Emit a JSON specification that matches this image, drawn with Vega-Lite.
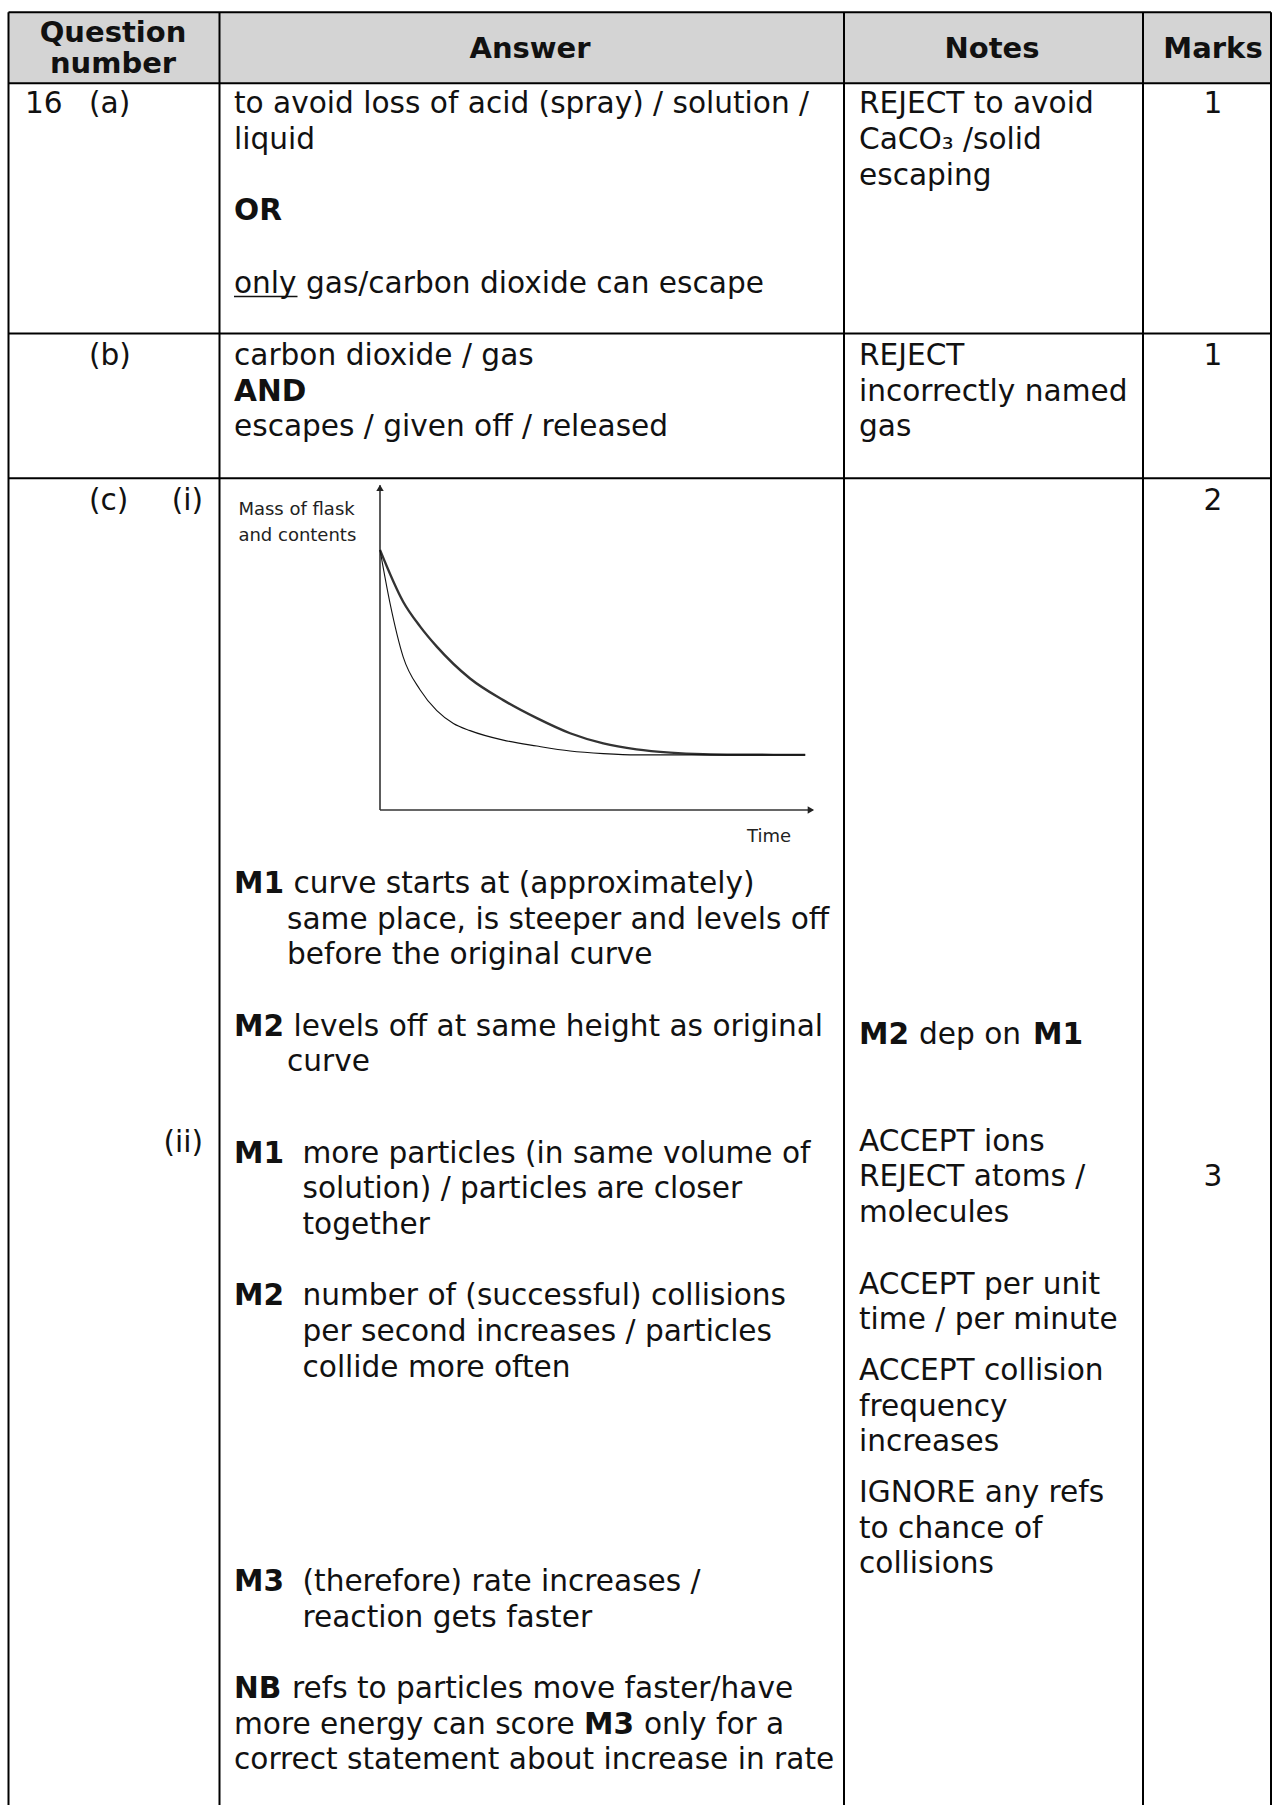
{
  "$schema": "https://vega.github.io/schema/vega-lite/v6.json",
  "width": 1274,
  "height": 1805,
  "padding": 0,
  "autosize": "none",
  "background": "white",
  "config": {"view": {"stroke": null}},
  "datasets": {
    "header": [{"col": 0, "col2": 22, "line": -2.83, "line2": -0.84}],
    "hlines": [
      {"col": 0, "col2": 22, "line": -2.83},
      {"col": 0, "col2": 22, "line": -0.84},
      {"col": 0, "col2": 22, "line": 6.17},
      {"col": 0, "col2": 22, "line": 10.22}
    ],
    "vlines": [
      {"col": 0, "line": -2.83, "line2": 48},
      {"col": 5, "line": -2.83, "line2": 48},
      {"col": 15, "line": -2.83, "line2": 48},
      {"col": 20, "line": -2.83, "line2": 48},
      {"col": 22, "line": -2.83, "line2": 48}
    ],
    "underlines": [{"col": 6, "col2": 10, "line": 5.13}],
    "texts": [
      {"kind": "header", "col": 3, "line": -2.01, "text": "Question"},
      {"kind": "header", "col": 3, "line": -1.12, "text": "number"},
      {"kind": "header", "col": 12, "line": -1.56, "text": "Answer"},
      {"kind": "header", "col": 18, "line": -1.56, "text": "Notes"},
      {"kind": "header", "col": 21, "line": -1.56, "text": "Marks"},

      {"kind": "body", "col": 1, "line": 0, "text": "16"},
      {"kind": "body", "col": 2, "line": 0, "text": "(a)"},
      {"kind": "body", "col": 6, "line": 0, "text": "to avoid loss of acid (spray) / solution /"},
      {"kind": "body", "col": 6, "line": 1, "text": "liquid"},
      {"kind": "label", "col": 6, "line": 3, "text": "OR"},
      {"kind": "body", "col": 6, "line": 5.03, "text": "only gas/carbon dioxide can escape"},
      {"kind": "body", "col": 16, "line": 0, "text": "REJECT to avoid"},
      {"kind": "body", "col": 16, "line": 1, "text": "CaCO₃ /solid"},
      {"kind": "body", "col": 16, "line": 2, "text": "escaping"},
      {"kind": "mark", "col": 21, "line": 0, "text": "1"},

      {"kind": "body", "col": 2, "line": 7.05, "text": "(b)"},
      {"kind": "body", "col": 6, "line": 7.05, "text": "carbon dioxide / gas"},
      {"kind": "label", "col": 6, "line": 8.05, "text": "AND"},
      {"kind": "body", "col": 6, "line": 9.05, "text": "escapes / given off / released"},
      {"kind": "body", "col": 16, "line": 7.05, "text": "REJECT"},
      {"kind": "body", "col": 16, "line": 8.05, "text": "incorrectly named"},
      {"kind": "body", "col": 16, "line": 9.05, "text": "gas"},
      {"kind": "mark", "col": 21, "line": 7.05, "text": "1"},

      {"kind": "body", "col": 2, "line": 11.1, "text": "(c)"},
      {"kind": "part", "col": 4, "line": 11.1, "text": "(i)"},
      {"kind": "mark", "col": 21, "line": 11.1, "text": "2"},
      {"kind": "label", "col": 6, "line": 21.84, "text": "M1"},
      {"kind": "body", "col": 9, "line": 21.84, "text": "curve starts at (approximately)"},
      {"kind": "body", "col": 7, "line": 22.84, "text": "same place, is steeper and levels off"},
      {"kind": "body", "col": 7, "line": 23.84, "text": "before the original curve"},
      {"kind": "label", "col": 6, "line": 25.84, "text": "M2"},
      {"kind": "body", "col": 9, "line": 25.84, "text": "levels off at same height as original"},
      {"kind": "body", "col": 7, "line": 26.84, "text": "curve"},
      {"kind": "label", "col": 16, "line": 26.06, "text": "M2"},
      {"kind": "body", "col": 17, "line": 26.06, "text": "dep on"},
      {"kind": "label", "col": 19, "line": 26.06, "text": "M1"},

      {"kind": "part", "col": 4, "line": 29.1, "text": "(ii)"},
      {"kind": "label", "col": 6, "line": 29.39, "text": "M1"},
      {"kind": "body", "col": 11, "line": 29.39, "text": "more particles (in same volume of"},
      {"kind": "body", "col": 11, "line": 30.39, "text": "solution) / particles are closer"},
      {"kind": "body", "col": 11, "line": 31.39, "text": "together"},
      {"kind": "label", "col": 6, "line": 33.39, "text": "M2"},
      {"kind": "body", "col": 11, "line": 33.39, "text": "number of (successful) collisions"},
      {"kind": "body", "col": 11, "line": 34.39, "text": "per second increases / particles"},
      {"kind": "body", "col": 11, "line": 35.39, "text": "collide more often"},
      {"kind": "label", "col": 6, "line": 41.39, "text": "M3"},
      {"kind": "body", "col": 11, "line": 41.39, "text": "(therefore) rate increases /"},
      {"kind": "body", "col": 11, "line": 42.39, "text": "reaction gets faster"},
      {"kind": "label", "col": 6, "line": 44.39, "text": "NB"},
      {"kind": "body", "col": 8, "line": 44.39, "text": "refs to particles move faster/have"},
      {"kind": "body", "col": 6, "line": 45.39, "text": "more energy can score"},
      {"kind": "label", "col": 13, "line": 45.39, "text": "M3"},
      {"kind": "body", "col": 14, "line": 45.39, "text": "only for a"},
      {"kind": "body", "col": 6, "line": 46.39, "text": "correct statement about increase in rate"},
      {"kind": "body", "col": 16, "line": 29.06, "text": "ACCEPT ions"},
      {"kind": "body", "col": 16, "line": 30.06, "text": "REJECT atoms /"},
      {"kind": "body", "col": 16, "line": 31.06, "text": "molecules"},
      {"kind": "body", "col": 16, "line": 33.06, "text": "ACCEPT per unit"},
      {"kind": "body", "col": 16, "line": 34.06, "text": "time / per minute"},
      {"kind": "body", "col": 16, "line": 35.48, "text": "ACCEPT collision"},
      {"kind": "body", "col": 16, "line": 36.48, "text": "frequency"},
      {"kind": "body", "col": 16, "line": 37.48, "text": "increases"},
      {"kind": "body", "col": 16, "line": 38.9, "text": "IGNORE any refs"},
      {"kind": "body", "col": 16, "line": 39.9, "text": "to chance of"},
      {"kind": "body", "col": 16, "line": 40.9, "text": "collisions"},
      {"kind": "mark", "col": 21, "line": 30.06, "text": "3"}
    ],
    "curves": [
      {"curve": "original", "t": 0, "m": 79.3},
      {"curve": "original", "t": 5.3, "m": 63.5},
      {"curve": "original", "t": 9.2, "m": 55.9},
      {"curve": "original", "t": 13, "m": 49.8},
      {"curve": "original", "t": 20.6, "m": 40.1},
      {"curve": "original", "t": 28.2, "m": 33.5},
      {"curve": "original", "t": 35.9, "m": 28.0},
      {"curve": "original", "t": 43.5, "m": 23.4},
      {"curve": "original", "t": 51.1, "m": 20.3},
      {"curve": "original", "t": 58.7, "m": 18.5},
      {"curve": "original", "t": 66.4, "m": 17.5},
      {"curve": "original", "t": 74, "m": 17.0},
      {"curve": "original", "t": 81.6, "m": 16.85},
      {"curve": "original", "t": 97.3, "m": 16.8},
      {"curve": "faster", "t": 0, "m": 79.3},
      {"curve": "faster", "t": 2.3, "m": 63.0},
      {"curve": "faster", "t": 5.3, "m": 46.7},
      {"curve": "faster", "t": 9.2, "m": 36.6},
      {"curve": "faster", "t": 13, "m": 30.3},
      {"curve": "faster", "t": 16.8, "m": 26.4},
      {"curve": "faster", "t": 20.6, "m": 24.2},
      {"curve": "faster", "t": 28.2, "m": 21.3},
      {"curve": "faster", "t": 35.9, "m": 19.5},
      {"curve": "faster", "t": 43.5, "m": 18.0},
      {"curve": "faster", "t": 51.1, "m": 17.2},
      {"curve": "faster", "t": 58.7, "m": 16.8},
      {"curve": "faster", "t": 97.3, "m": 16.8}
    ],
    "axes": [
      {"axis": "mass", "t": 0, "m": 0, "t2": 0, "m2": 99},
      {"axis": "time", "t": 0, "m": 0, "t2": 99, "m2": 0}
    ],
    "arrows": [
      {"axis": "mass", "t": 0, "m": 98.2},
      {"axis": "time", "t": 98.6, "m": 0}
    ],
    "chartLabels": [
      {"t": -32.4, "m": 89.9, "text": "Mass of flask"},
      {"t": -32.4, "m": 82.0, "text": "and contents"},
      {"t": 84.0, "m": -9.8, "text": "Time"}
    ]
  },
  "layer": [
    {
      "layer": [
        {
          "data": {"name": "header"},
          "mark": {"type": "rect", "color": "#d4d4d4"},
          "encoding": {
            "x": {"field": "col", "type": "quantitative", "axis": null, "scale": {"domain": [0,1,2,3,4,5,6,7,8,9,10,11,12,13,14,15,16,17,18,19,20,21,22], "range": [8.5,25,89,113,203,219.5,234,287,292,293.5,297.5,302.5,530,584,644,844,859,919,992,1033,1143,1213,1271], "nice": false, "zero": false}},
            "x2": {"field": "col2"},
            "y": {"field": "line", "type": "quantitative", "axis": null, "scale": {"domain": [0, 10], "range": [113.3, 470.3], "nice": false, "zero": false}},
            "y2": {"field": "line2"}
          }
        },
        {
          "data": {"name": "hlines"},
          "mark": {"type": "rule", "color": "#000", "strokeWidth": 2},
          "encoding": {
            "x": {"field": "col", "type": "quantitative", "axis": null, "scale": {"domain": [0,1,2,3,4,5,6,7,8,9,10,11,12,13,14,15,16,17,18,19,20,21,22], "range": [8.5,25,89,113,203,219.5,234,287,292,293.5,297.5,302.5,530,584,644,844,859,919,992,1033,1143,1213,1271], "nice": false, "zero": false}},
            "x2": {"field": "col2"},
            "y": {"field": "line", "type": "quantitative", "axis": null, "scale": {"domain": [0, 10], "range": [113.3, 470.3], "nice": false, "zero": false}}
          }
        },
        {
          "data": {"name": "vlines"},
          "mark": {"type": "rule", "color": "#000", "strokeWidth": 2},
          "encoding": {
            "x": {"field": "col", "type": "quantitative", "axis": null, "scale": {"domain": [0,1,2,3,4,5,6,7,8,9,10,11,12,13,14,15,16,17,18,19,20,21,22], "range": [8.5,25,89,113,203,219.5,234,287,292,293.5,297.5,302.5,530,584,644,844,859,919,992,1033,1143,1213,1271], "nice": false, "zero": false}},
            "y": {"field": "line", "type": "quantitative", "axis": null, "scale": {"domain": [0, 10], "range": [113.3, 470.3], "nice": false, "zero": false}},
            "y2": {"field": "line2"}
          }
        },
        {
          "data": {"name": "underlines"},
          "mark": {"type": "rule", "color": "#111", "strokeWidth": 1.5},
          "encoding": {
            "x": {"field": "col", "type": "quantitative", "axis": null, "scale": {"domain": [0,1,2,3,4,5,6,7,8,9,10,11,12,13,14,15,16,17,18,19,20,21,22], "range": [8.5,25,89,113,203,219.5,234,287,292,293.5,297.5,302.5,530,584,644,844,859,919,992,1033,1143,1213,1271], "nice": false, "zero": false}},
            "x2": {"field": "col2"},
            "y": {"field": "line", "type": "quantitative", "axis": null, "scale": {"domain": [0, 10], "range": [113.3, 470.3], "nice": false, "zero": false}}
          }
        },
        {
          "data": {"name": "texts"},
          "transform": [{"filter": "datum.kind === 'body'"}],
          "mark": {"type": "text", "align": "left", "baseline": "alphabetic", "font": "DejaVu Sans", "fontSize": 29.6, "color": "#111"},
          "encoding": {
            "x": {"field": "col", "type": "quantitative", "axis": null, "scale": {"domain": [0,1,2,3,4,5,6,7,8,9,10,11,12,13,14,15,16,17,18,19,20,21,22], "range": [8.5,25,89,113,203,219.5,234,287,292,293.5,297.5,302.5,530,584,644,844,859,919,992,1033,1143,1213,1271], "nice": false, "zero": false}},
            "y": {"field": "line", "type": "quantitative", "axis": null, "scale": {"domain": [0, 10], "range": [113.3, 470.3], "nice": false, "zero": false}},
            "text": {"field": "text"}
          }
        },
        {
          "data": {"name": "texts"},
          "transform": [{"filter": "datum.kind === 'label'"}],
          "mark": {"type": "text", "align": "left", "baseline": "alphabetic", "font": "DejaVu Sans", "fontSize": 29.6, "fontWeight": "bold", "color": "#111"},
          "encoding": {
            "x": {"field": "col", "type": "quantitative", "axis": null, "scale": {"domain": [0,1,2,3,4,5,6,7,8,9,10,11,12,13,14,15,16,17,18,19,20,21,22], "range": [8.5,25,89,113,203,219.5,234,287,292,293.5,297.5,302.5,530,584,644,844,859,919,992,1033,1143,1213,1271], "nice": false, "zero": false}},
            "y": {"field": "line", "type": "quantitative", "axis": null, "scale": {"domain": [0, 10], "range": [113.3, 470.3], "nice": false, "zero": false}},
            "text": {"field": "text"}
          }
        },
        {
          "data": {"name": "texts"},
          "transform": [{"filter": "datum.kind === 'header'"}],
          "mark": {"type": "text", "align": "center", "baseline": "alphabetic", "font": "DejaVu Sans", "fontSize": 29, "fontWeight": "bold", "color": "#111"},
          "encoding": {
            "x": {"field": "col", "type": "quantitative", "axis": null, "scale": {"domain": [0,1,2,3,4,5,6,7,8,9,10,11,12,13,14,15,16,17,18,19,20,21,22], "range": [8.5,25,89,113,203,219.5,234,287,292,293.5,297.5,302.5,530,584,644,844,859,919,992,1033,1143,1213,1271], "nice": false, "zero": false}},
            "y": {"field": "line", "type": "quantitative", "axis": null, "scale": {"domain": [0, 10], "range": [113.3, 470.3], "nice": false, "zero": false}},
            "text": {"field": "text"}
          }
        },
        {
          "data": {"name": "texts"},
          "transform": [{"filter": "datum.kind === 'mark'"}],
          "mark": {"type": "text", "align": "center", "baseline": "alphabetic", "font": "DejaVu Sans", "fontSize": 29.6, "color": "#111"},
          "encoding": {
            "x": {"field": "col", "type": "quantitative", "axis": null, "scale": {"domain": [0,1,2,3,4,5,6,7,8,9,10,11,12,13,14,15,16,17,18,19,20,21,22], "range": [8.5,25,89,113,203,219.5,234,287,292,293.5,297.5,302.5,530,584,644,844,859,919,992,1033,1143,1213,1271], "nice": false, "zero": false}},
            "y": {"field": "line", "type": "quantitative", "axis": null, "scale": {"domain": [0, 10], "range": [113.3, 470.3], "nice": false, "zero": false}},
            "text": {"field": "text"}
          }
        },
        {
          "data": {"name": "texts"},
          "transform": [{"filter": "datum.kind === 'part'"}],
          "mark": {"type": "text", "align": "right", "baseline": "alphabetic", "font": "DejaVu Sans", "fontSize": 29.6, "color": "#111"},
          "encoding": {
            "x": {"field": "col", "type": "quantitative", "axis": null, "scale": {"domain": [0,1,2,3,4,5,6,7,8,9,10,11,12,13,14,15,16,17,18,19,20,21,22], "range": [8.5,25,89,113,203,219.5,234,287,292,293.5,297.5,302.5,530,584,644,844,859,919,992,1033,1143,1213,1271], "nice": false, "zero": false}},
            "y": {"field": "line", "type": "quantitative", "axis": null, "scale": {"domain": [0, 10], "range": [113.3, 470.3], "nice": false, "zero": false}},
            "text": {"field": "text"}
          }
        }
      ]
    },
    {
      "layer": [
        {
          "data": {"name": "axes"},
          "mark": {"type": "rule", "color": "#333", "strokeWidth": 1.6},
          "encoding": {
            "x": {"field": "t", "type": "quantitative", "axis": null, "scale": {"domain": [0, 100], "range": [380, 817], "nice": false, "zero": false}},
            "y": {"field": "m", "type": "quantitative", "axis": null, "scale": {"domain": [0, 100], "range": [810, 482], "nice": false, "zero": false}},
            "x2": {"field": "t2"},
            "y2": {"field": "m2"}
          }
        },
        {
          "data": {"name": "arrows"},
          "transform": [{"filter": "datum.axis === 'mass'"}],
          "mark": {"type": "point", "shape": "triangle-up", "filled": true, "color": "#222", "size": 55, "opacity": 1},
          "encoding": {
            "x": {"field": "t", "type": "quantitative", "axis": null, "scale": {"domain": [0, 100], "range": [380, 817], "nice": false, "zero": false}},
            "y": {"field": "m", "type": "quantitative", "axis": null, "scale": {"domain": [0, 100], "range": [810, 482], "nice": false, "zero": false}}
          }
        },
        {
          "data": {"name": "arrows"},
          "transform": [{"filter": "datum.axis === 'time'"}],
          "mark": {"type": "point", "shape": "triangle-right", "filled": true, "color": "#222", "size": 55, "opacity": 1},
          "encoding": {
            "x": {"field": "t", "type": "quantitative", "axis": null, "scale": {"domain": [0, 100], "range": [380, 817], "nice": false, "zero": false}},
            "y": {"field": "m", "type": "quantitative", "axis": null, "scale": {"domain": [0, 100], "range": [810, 482], "nice": false, "zero": false}}
          }
        },
        {
          "data": {"name": "curves"},
          "transform": [{"filter": "datum.curve === 'original'"}],
          "mark": {"type": "line", "interpolate": "monotone", "color": "#333", "strokeWidth": 2.4},
          "encoding": {
            "x": {"field": "t", "type": "quantitative", "axis": null, "scale": {"domain": [0, 100], "range": [380, 817], "nice": false, "zero": false}},
            "y": {"field": "m", "type": "quantitative", "axis": null, "scale": {"domain": [0, 100], "range": [810, 482], "nice": false, "zero": false}}
          }
        },
        {
          "data": {"name": "curves"},
          "transform": [{"filter": "datum.curve === 'faster'"}],
          "mark": {"type": "line", "interpolate": "monotone", "color": "#111", "strokeWidth": 1.1},
          "encoding": {
            "x": {"field": "t", "type": "quantitative", "axis": null, "scale": {"domain": [0, 100], "range": [380, 817], "nice": false, "zero": false}},
            "y": {"field": "m", "type": "quantitative", "axis": null, "scale": {"domain": [0, 100], "range": [810, 482], "nice": false, "zero": false}}
          }
        },
        {
          "data": {"name": "chartLabels"},
          "mark": {"type": "text", "align": "left", "baseline": "alphabetic", "font": "DejaVu Sans", "fontSize": 18, "color": "#222"},
          "encoding": {
            "x": {"field": "t", "type": "quantitative", "axis": null, "scale": {"domain": [0, 100], "range": [380, 817], "nice": false, "zero": false}},
            "y": {"field": "m", "type": "quantitative", "axis": null, "scale": {"domain": [0, 100], "range": [810, 482], "nice": false, "zero": false}},
            "text": {"field": "text"}
          }
        }
      ]
    }
  ],
  "resolve": {"scale": {"x": "independent", "y": "independent"}}
}
